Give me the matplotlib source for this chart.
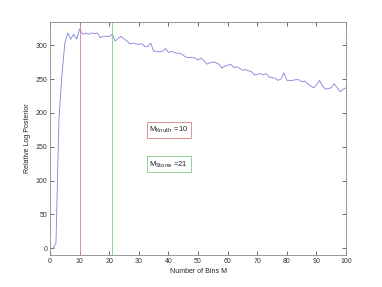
import matplotlib
matplotlib.use("Agg")
import matplotlib.pyplot as plt

plt.rcParams['font.family'] = ['Liberation Sans', 'DejaVu Sans']

bins = list(range(1, 101))
log_posterior = [
    0, 8, 190, 255, 303, 318, 309, 316, 309, 324,
    316, 318, 316, 318, 317, 318, 311, 313, 313, 313,
    316, 306, 310, 313, 309, 306, 302, 303, 302, 301,
    302, 298, 298, 303, 291, 291, 290, 291, 295, 289,
    291, 289, 288, 288, 285, 282, 282, 282, 281, 278,
    281, 277, 272, 274, 275, 274, 272, 266, 269, 270,
    272, 267, 268, 266, 263, 264, 262, 261, 256, 257,
    258, 256, 258, 253, 252, 251, 248, 250, 259, 248,
    248, 248, 249, 249, 246, 247, 243, 240, 237, 241,
    248, 240, 235, 236, 237, 243, 237, 231, 235, 237,
]
m_knuth = 10
m_stone = 21
xticks = [0, 10, 20, 30, 40, 50, 60, 70, 80, 90, 100]
yticks = [0, 50, 100, 150, 200, 250, 300]

fig = plt.figure(figsize=(3.82, 2.87), dpi=100)
ax = fig.add_axes([0.131, 0.111, 0.775, 0.812])

ax.plot(bins, log_posterior, color='#8080dc', lw=0.6)
ax.axvline(m_knuth, color='#d88080', lw=0.6)
ax.axvline(m_stone, color='#80cc80', lw=0.6)

ax.set_xlim(0, 100)
ax.set_ylim(-10, 334)
ax.set_xticks(xticks)
ax.set_yticks(yticks)
ax.tick_params(direction='in', length=3, width=0.5, labelsize=5, colors='#333333',
               top=True, right=True, pad=2)
for s in ax.spines.values():
    s.set_color('#888888')
    s.set_linewidth(0.6)

ax.set_xlabel('Number of Bins M', fontsize=5, color='#222222', labelpad=2)
ax.set_ylabel('Relative Log Posterior', fontsize=5, color='#222222', labelpad=3)

ax.text(33.5, 175, r'M$_{\mathrm{Knuth}}$ =10', fontsize=5.5, va='center', ha='left',
        color='#222222',
        bbox=dict(boxstyle='square,pad=0.35', fc='white', ec='#d88080', lw=0.6))
ax.text(33.5, 124, r'M$_{\mathrm{Stone}}$ =21', fontsize=5.5, va='center', ha='left',
        color='#222222',
        bbox=dict(boxstyle='square,pad=0.35', fc='white', ec='#80cc80', lw=0.6))

fig.savefig('out.png', dpi=100)
